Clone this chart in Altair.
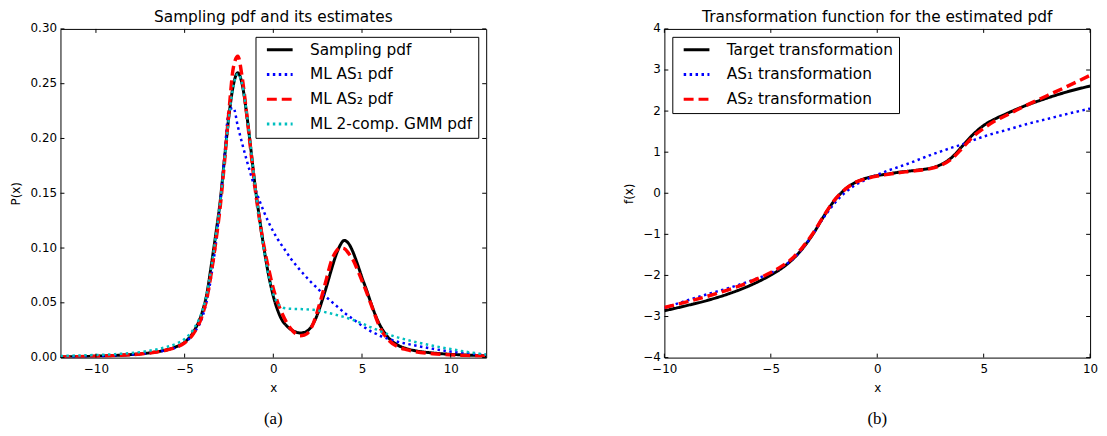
import altair as alt
import pandas as pd

# ---------------- left panel data (pdfs) ----------------
XL = [-12, -11, -10, -9, -8, -7, -6.5, -6, -5.5, -5, -4.5, -4, -3.75, -3.5, -3.25, -3, -2.75, -2.5,
      -2.25, -2, -1.75, -1.5, -1.25, -1, -0.75, -0.5, -0.25, 0, 0.25, 0.5, 0.75, 1, 1.25, 1.5, 1.75,
      2, 2.25, 2.5, 2.75, 3, 3.25, 3.5, 3.75, 4, 4.25, 4.5, 4.75, 5, 5.25, 5.5, 5.75, 6, 6.5, 7,
      7.5, 8, 9, 10, 11, 12]

SAMPLING_PDF = [0.0006, 0.0009, 0.0013, 0.0019, 0.0028, 0.0043, 0.0055, 0.0072, 0.0097, 0.0140,
                0.0235, 0.042, 0.058, 0.084, 0.112, 0.142, 0.182, 0.221, 0.249, 0.260, 0.249,
                0.222, 0.188, 0.153, 0.124, 0.097, 0.074, 0.056, 0.043, 0.034, 0.029, 0.0255,
                0.0235, 0.0225, 0.023, 0.0255, 0.031, 0.040, 0.052, 0.065, 0.079, 0.092, 0.102,
                0.107, 0.104, 0.096, 0.085, 0.073, 0.062, 0.050, 0.039, 0.030, 0.018, 0.0115,
                0.0082, 0.0063, 0.0042, 0.0030, 0.0023, 0.0016]

AS1_PDF = [0.0005, 0.0008, 0.0012, 0.0018, 0.0027, 0.0042, 0.0053, 0.0069, 0.0092, 0.0135,
           0.022, 0.037, 0.052, 0.074, 0.103, 0.140, 0.185, 0.226, 0.228, 0.211, 0.195,
           0.180, 0.166, 0.153, 0.142, 0.132, 0.123, 0.115, 0.108, 0.102, 0.096, 0.090,
           0.085, 0.080, 0.0755, 0.071, 0.067, 0.063, 0.059, 0.055, 0.0515, 0.048, 0.0445,
           0.041, 0.038, 0.035, 0.032, 0.029, 0.0265, 0.024, 0.022, 0.020, 0.017, 0.0145,
           0.0127, 0.0110, 0.0080, 0.0055, 0.0038, 0.0025]

AS2_PDF = [0.0005, 0.0008, 0.0012, 0.0018, 0.0027, 0.0042, 0.0053, 0.0069, 0.0093, 0.0135,
           0.022, 0.039, 0.054, 0.077, 0.105, 0.137, 0.179, 0.225, 0.265, 0.275, 0.255,
           0.222, 0.186, 0.151, 0.123, 0.099, 0.080, 0.063, 0.050, 0.040, 0.032, 0.026,
           0.022, 0.020, 0.0205, 0.0235, 0.031, 0.043, 0.057, 0.072, 0.087, 0.096, 0.100,
           0.0995, 0.095, 0.089, 0.080, 0.070, 0.060, 0.049, 0.038, 0.028, 0.016, 0.010,
           0.0073, 0.0055, 0.0036, 0.0025, 0.0018, 0.0013]

GMM_PDF = [0.0015, 0.0019, 0.0024, 0.0031, 0.0042, 0.0062, 0.0078, 0.0098, 0.0125, 0.017,
           0.026, 0.043, 0.058, 0.082, 0.110, 0.141, 0.180, 0.219, 0.248, 0.259, 0.249,
           0.223, 0.189, 0.153, 0.122, 0.095, 0.073, 0.058, 0.0495, 0.046, 0.0448, 0.0445,
           0.0444, 0.0443, 0.0441, 0.0439, 0.0436, 0.0431, 0.0422, 0.0412, 0.0402, 0.0392,
           0.0381, 0.0370, 0.0357, 0.0343, 0.0328, 0.0312, 0.0295, 0.0277, 0.0260, 0.0243,
           0.0212, 0.0185, 0.0163, 0.0143, 0.0108, 0.0078, 0.0050, 0.0028]

LEFT_NAMES = ["Sampling pdf", "ML AS\u2081 pdf", "ML AS\u2082 pdf", "ML 2-comp. GMM pdf"]
LEFT_X_TICKS = [-10, -5, 0, 5, 10]
LEFT_Y_TICKS = [0.0, 0.05, 0.10, 0.15, 0.20, 0.25, 0.30]

# ---------------- right panel data (transformations) ----------------
XR = [-10, -9, -8, -7, -6, -5, -4.5, -4, -3.5, -3, -2.5, -2, -1.5, -1, -0.5, 0, 0.5, 1, 1.5, 2,
      2.5, 3, 3.5, 4, 4.5, 5, 5.5, 6, 7, 8, 9, 10]

TARGET_T = [-2.86, -2.74, -2.61, -2.45, -2.25, -1.99, -1.83, -1.62, -1.34, -0.98, -0.55, -0.17,
            0.10, 0.27, 0.37, 0.43, 0.47, 0.51, 0.54, 0.57, 0.61, 0.70, 0.87, 1.15, 1.43, 1.65,
            1.80, 1.92, 2.14, 2.32, 2.48, 2.61]

AS1_T = [-2.79, -2.62, -2.46, -2.31, -2.14, -1.94, -1.80, -1.62, -1.34, -0.98, -0.58, -0.24,
         0.02, 0.21, 0.34, 0.45, 0.55, 0.64, 0.73, 0.83, 0.93, 1.02, 1.11, 1.19, 1.29, 1.38,
         1.46, 1.53, 1.68, 1.81, 1.94, 2.06]

AS2_T = [-2.78, -2.65, -2.51, -2.35, -2.16, -1.93, -1.78, -1.59, -1.31, -0.96, -0.54, -0.16,
         0.10, 0.27, 0.36, 0.42, 0.46, 0.50, 0.53, 0.56, 0.60, 0.68, 0.84, 1.10, 1.38, 1.58,
         1.75, 1.88, 2.14, 2.38, 2.62, 2.87]

RIGHT_NAMES = ["Target transformation", "AS\u2081 transformation", "AS\u2082 transformation"]
RIGHT_X_TICKS = [-10, -5, 0, 5, 10]
RIGHT_Y_TICKS = [-4, -3, -2, -1, 0, 1, 2, 3, 4]

# ---------------- styles ----------------
W, H = 430, 332
FONT = "DejaVu Sans"
TICK_LEN = 4

LEFT_COLORS = ["#000000", "#0000ff", "#ff0000", "#00bfbf"]
LEFT_DASHES = [[1, 0], [2.5, 3.5], [10, 5], [2.5, 3.5]]
LEFT_WIDTHS = [3, 2.5, 3.5, 2.5]
RIGHT_COLORS = ["#000000", "#0000ff", "#ff0000"]
RIGHT_DASHES = [[1, 0], [2.5, 3.5], [10, 5]]
RIGHT_WIDTHS = [3, 2.5, 3.5]


def panel(xs, series, names, colors, dashes, widths, xdom, ydom, xticks, yticks, yfmt,
          ytitle, ext, title, caption, legend_orient):
    xscale = alt.Scale(domain=xdom, nice=False, zero=False)
    yscale = alt.Scale(domain=ydom, nice=False, zero=False)
    legend = alt.Legend(title=None, orient=legend_orient, offset=8, padding=5,
                        strokeColor="black", fillColor="white", cornerRadius=0,
                        labelFont=FONT, labelFontSize=15.5, labelColor="black",
                        symbolType="stroke", symbolSize=676, symbolStrokeWidth=3,
                        symbolOffset=5, labelOffset=16, rowPadding=8, clipHeight=16,
                        labelLimit=400)
    xaxis = alt.Axis(values=xticks, title="x", labelFont=FONT, labelFontSize=12,
                     titleFont=FONT, titleFontSize=12, titleFontWeight="normal",
                     domain=False, ticks=False, grid=False, labelPadding=6, titlePadding=8,
                     labelColor="black", titleColor="black", labelFlush=False,
                     labelOverlap=False)
    yaxis = alt.Axis(values=yticks, format=yfmt, title=ytitle, labelFont=FONT,
                     labelFontSize=12, titleFont=FONT, titleFontSize=12,
                     titleFontWeight="normal", domain=False, ticks=False, grid=False,
                     labelPadding=4, titlePadding=7, labelColor="black", titleColor="black",
                     minExtent=ext, maxExtent=ext, labelOverlap=False, labelFlush=False,
                     labelOffset=-1)
    layers = []
    for i, (name, vals) in enumerate(zip(names, series)):
        df = pd.DataFrame({"x": xs, "y": vals, "s": name})
        layers.append(
            alt.Chart(df).mark_line(strokeWidth=widths[i], interpolate="monotone", clip=True)
            .encode(
                x=alt.X("x:Q", scale=xscale, axis=xaxis),
                y=alt.Y("y:Q", scale=yscale, axis=yaxis),
                color=alt.Color("s:N", scale=alt.Scale(domain=names, range=colors), legend=legend),
                strokeDash=alt.StrokeDash("s:N", scale=alt.Scale(domain=names, range=dashes),
                                          legend=legend),
            )
        )
    xt = pd.DataFrame({"x": xticks})
    yt = pd.DataFrame({"y": yticks})
    rule = dict(color="black", strokeWidth=1)
    bottom = alt.Chart(xt).mark_rule(**rule).encode(
        x=alt.X("x:Q", scale=xscale, axis=xaxis), y=alt.value(H), y2=alt.value(H - TICK_LEN))
    top = alt.Chart(xt).mark_rule(**rule).encode(
        x=alt.X("x:Q", scale=xscale, axis=xaxis), y=alt.value(0), y2=alt.value(TICK_LEN))
    left = alt.Chart(yt).mark_rule(**rule).encode(
        y=alt.Y("y:Q", scale=yscale, axis=yaxis), x=alt.value(0), x2=alt.value(TICK_LEN))
    right = alt.Chart(yt).mark_rule(**rule).encode(
        y=alt.Y("y:Q", scale=yscale, axis=yaxis), x=alt.value(W - TICK_LEN), x2=alt.value(W))
    cap = alt.Chart(pd.DataFrame({"c": [caption]})).mark_text(
        font="Liberation Serif", fontSize=17, align="center", baseline="middle", color="black"
    ).encode(text="c:N", x=alt.value(W / 2), y=alt.value(H + 62))
    return alt.layer(*layers, bottom, top, left, right, cap).properties(
        width=W, height=H,
        title=alt.TitleParams(text=title, font=FONT, fontSize=15.5, fontWeight="normal",
                              offset=-4, anchor="middle", color="black", frame="group"),
    )


left_chart = panel(XL, [SAMPLING_PDF, AS1_PDF, AS2_PDF, GMM_PDF], LEFT_NAMES, LEFT_COLORS,
                   LEFT_DASHES, LEFT_WIDTHS, [-12, 12], [0, 0.30], LEFT_X_TICKS, LEFT_Y_TICKS,
                   ".2f", "P(x)", 31, "Sampling pdf and its estimates", "(a)", "top-right")
right_chart = panel(XR, [TARGET_T, AS1_T, AS2_T], RIGHT_NAMES, RIGHT_COLORS, RIGHT_DASHES,
                    RIGHT_WIDTHS, [-10, 10], [-4, 4], RIGHT_X_TICKS, RIGHT_Y_TICKS, "d",
                    "f(x)", 22, "Transformation function for the estimated pdf", "(b)",
                    "top-left")

chart = (
    alt.hconcat(left_chart, right_chart, spacing=136)
    .resolve_scale(color="independent", strokeDash="independent", x="independent",
                   y="independent")
    .resolve_legend(color="independent", strokeDash="independent")
    .properties(padding={"left": 1, "top": 0, "right": 0, "bottom": 0}, background="white")
    .configure_view(stroke="black", strokeWidth=1)
)

chart.save("out.html", embed_options={"renderer": "svg", "actions": False})
